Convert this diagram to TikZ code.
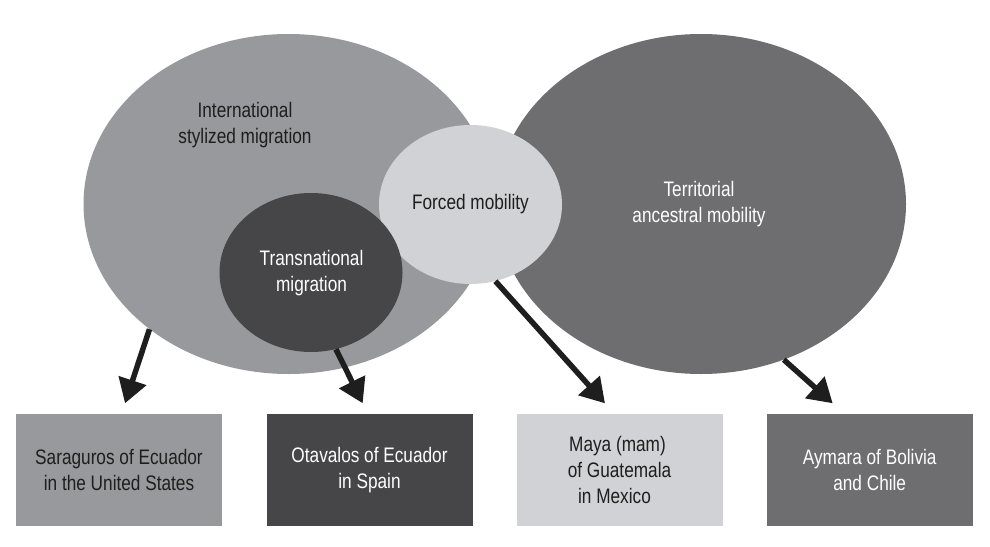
\documentclass[tikz,border=0pt]{standalone}
\usepackage{fontspec}
\setmainfont{Liberation Sans}[FakeStretch=0.82]
\usetikzlibrary{shapes.geometric,arrows.meta}
\definecolor{cA}{HTML}{98999C}
\definecolor{cB}{HTML}{6E6E70}
\definecolor{cC}{HTML}{D1D2D5}
\definecolor{cD}{HTML}{464648}
\definecolor{ink}{HTML}{1E1E1E}
\begin{document}
\begin{tikzpicture}[x=1pt,y=-1pt,
  blob/.style={ellipse,inner sep=0pt,draw=none},
  big/.style={blob,minimum width=410pt,minimum height=340pt},
  small/.style={blob,minimum width=183pt,minimum height=159pt},
  lbl/.style={align=center,font=\fontsize{21}{26}\selectfont,inner sep=0pt},
  box/.style={rectangle,minimum width=206pt,minimum height=112pt,inner sep=0pt,
    align=center,font=\fontsize{21}{26}\selectfont},
  arr/.style={draw=ink,line width=5.5pt,-{Triangle[length=24pt,width=28pt]}}]
\useasboundingbox (0,0) rectangle (990,546);
% ellipses
\node[big,fill=cA] (L) at (288.5,204) {};
\node[big,fill=cB] (R) at (701,204) {};
\node[small,fill=cC] (F) at (470.5,204.5) {};
\node[small,fill=cD] (T) at (311,272.5) {};
% labels
\node[lbl,text=ink] (lL) at (245,125.5) {International\\stylized migration};
\node[lbl,text=white] (lR) at (699,204.5) {Territorial\\ancestral mobility};
\node[lbl,text=ink] (lF) at (470.5,204.5) {Forced mobility};
\node[lbl,text=white] (lT) at (311.5,273.5) {Transnational\\migration};
% boxes
\node[box,fill=cA,text=ink] (b1) at (119,470) {Saraguros of Ecuador\\in the United States};
\node[box,fill=cD,text=white] (b2) at (369.5,470) {Otavalos of Ecuador\\in Spain};
\node[box,fill=cC,text=ink] (b3) at (619.5,470) {Maya (mam)\rule{4pt}{0pt}\\of Guatemala\\in Mexico\rule{10pt}{0pt}};
\node[box,fill=cB,text=white] (b4) at (869.7,470) {Aymara of Bolivia\\and Chile};
% arrow tips
\coordinate (t1) at (125,403.3);
\coordinate (t2) at (362.7,403.3);
\coordinate (t3) at (605,403.3);
\coordinate (t4) at (832.7,403.3);
\draw[arr] (L.222) -- (t1);
\draw[arr] (T.288) -- (t2);
\draw[arr] (F.288) -- (t3);
\draw[arr] (R.298) -- (t4);
\end{tikzpicture}
\end{document}
